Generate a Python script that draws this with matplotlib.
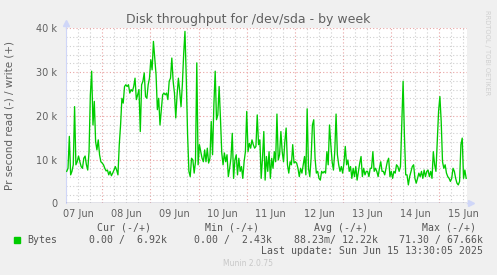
import pandas as pd
import numpy as np
import matplotlib
matplotlib.use("Agg")
import matplotlib.pyplot as plt
from matplotlib.patches import Rectangle

output_img_path = "out.png"

# write throughput (k bytes/s), ~40 min apart
write_day1 = [7.3, 8, 15.3, 6.5, 7.3, 8.8, 22.1, 8.8, 9.5, 10.8,
              9.5, 8.4, 8, 10.3, 10.8, 8.8, 7.6, 11.8, 24.8, 30.2,
              17.9, 23.3, 14.1, 12.2, 14.5, 11.1, 9.5, 9.2, 8.8, 8,
              7.4, 7.6, 6.5, 7.3, 6.3, 6.9, 7.6, 8.4, 7.6, 6.5,
              13.4, 17.9, 24, 22.9, 26.7, 27.1, 26.7, 27.1, 25.2, 26,
              25.6, 26.7, 28.6, 23.7, 24.8, 26, 16.4, 27.1, 27.9, 29.8,
              24.4, 24, 27.1, 28.6, 32.8, 30.5, 37, 33.2, 29.4, 21.4,
              24, 17.9, 21.4, 24.8, 25.2, 24.8]
write_day2 = [25.2, 23.7, 27.9, 28.6, 33.2, 27.9, 25.2, 19.5, 24.8, 28.6,
              25.6, 22.1, 27.1, 34, 39.3, 28.6, 15.6, 7.3, 6.1, 10.3,
              9.9, 6.9, 9.5, 32.1, 8.8, 13.4, 11.8, 10.3, 9.5, 12.2,
              9.5, 12.6, 9.2, 10.3, 18.7, 11.1, 22.5, 30.2, 19.1, 20.2,
              26.7, 19.5, 11.5, 8.8, 11.5, 9.5, 11.1, 6.1, 8, 10.3,
              16, 5.7, 9.9, 11.1, 6.5, 10.3, 7.3, 8.4, 5.7, 9.5,
              11.8, 21, 11.8, 13.7, 12.6, 14.5, 13.4, 12.6, 13, 20.2,
              13.4, 14.5, 5.7, 10.3, 16.4, 5.3]
write_day3 = [10.7, 7.3, 11.8, 5.7, 10.3, 8, 11.8, 9.5, 20.4, 9.9,
              11.1, 16.4, 11.8, 9.5, 14.1, 17.2, 8.8, 6.9, 9.5, 8.8,
              13.4, 9.2, 9.5, 9.2, 8, 6.1, 8, 6.9, 8.8, 10.7,
              6.5, 21.6, 8, 6.1, 10.3, 17.9, 19.1, 10.3, 6.9, 7.3,
              5.7, 5.3, 7.3, 6.9, 7.3, 6.9, 11.8, 8.8, 17.9, 13.4,
              9.5, 7.6, 11.8, 20.4, 11.1, 8.8, 7.3, 8.4, 6.9, 9.2,
              13, 8.8, 9.9, 7.3, 8.4, 5.7, 8, 6.1, 8.4, 5.3,
              7.3, 9.2, 10.7, 6.1, 8, 6.5, 7.3]
write_day4 = [7.3, 6.1, 8, 8, 11.8, 7.3, 8, 7.3, 6.1, 8,
              9.5, 7.3, 7.3, 6.5, 8, 9.5, 10.3, 6.1, 7.3, 5.7,
              7.3, 6.9, 8.8, 8.4, 7.3, 8.4, 17.9, 27.9, 15.6, 6.5,
              6.5, 4.2, 6.1, 7.3, 8.4, 8.8, 5.7, 4.6, 5.7, 6.9,
              6.1, 7.3, 5.7, 7.6, 6.1, 7.3, 7.6, 6.1, 7.3, 5.7,
              11.8, 8.8, 7.3, 14.1, 21, 24.4, 18.7, 9.5, 8, 8.8,
              6.9, 6.1, 5.7, 5, 5.7, 8, 7.3, 5.7, 4.6, 4.2,
              5, 13.4, 14.9, 5.7, 7.6, 5.7]

series_start = "2025-06-07 06:15"
series_end = "2025-06-15 13:20"
view_start = "2025-06-07 05:45"
view_end = "2025-06-15 13:30"

day_labels = ["07 Jun", "08 Jun", "09 Jun", "10 Jun", "11 Jun",
              "12 Jun", "13 Jun", "14 Jun", "15 Jun"]
y_ticks = [0, 10, 20, 30, 40]
y_tick_labels = ["0", "10 k", "20 k", "30 k", "40 k"]

legend_headers = ["Cur (-/+)", "Min (-/+)", "Avg (-/+)", "Max (-/+)"]
legend_values = ["0.00 /  6.92k", "0.00 /  2.43k", "88.23m/ 12.22k", "71.30 / 67.66k"]

W, H = 497, 275
TXT = "#606060"

write_vals = write_day1 + write_day2 + write_day3 + write_day4
times = pd.date_range(series_start, series_end, periods=len(write_vals))

fig = plt.figure(figsize=(W / 100, H / 100), dpi=100, facecolor="#F0F0F0")
ax = fig.add_axes([65.7 / W, 1 - 203.3 / H, (466.5 - 65.7) / W, (203.3 - 28.3) / H])
ax.set_facecolor("white")

t0, t1 = pd.Timestamp(view_start), pd.Timestamp(view_end)
ax.set_xlim(t0, t1)
ax.set_ylim(0, 40)

# grid: minor every 6h / 2k, major at midnight / 10k
for t in pd.date_range("2025-06-07 06:00", t1, freq="6h"):
    c = "#e9a3a3" if t.hour == 0 else "#cfcfcf"
    ax.axvline(t, color=c, lw=0.8, ls=(0, (1, 2)), zorder=1)
for v in np.arange(2, 41, 2):
    c = "#e9a3a3" if v % 10 == 0 else "#cfcfcf"
    ax.axhline(v, color=c, lw=0.8, ls=(0, (1, 2)), zorder=1)

ax.plot(times, write_vals, color="#00cc00", lw=0.95, zorder=3)
ax.axhline(0, color="#6e6e8e", lw=1.0, zorder=4)

noon = pd.date_range("2025-06-07 12:00", periods=len(day_labels), freq="D")
ax.set_xticks(noon)
ax.set_xticklabels(day_labels)
ax.set_yticks(y_ticks)
ax.set_yticklabels(y_tick_labels)
ax.tick_params(axis="x", length=0, pad=4, labelsize=7, labelcolor=TXT)
ax.tick_params(axis="y", length=0, pad=6, labelsize=7, labelcolor=TXT)

for s in ["top", "right", "bottom"]:
    ax.spines[s].set_visible(False)
ax.spines["left"].set_color("#cfd6f8")

# axis arrows
ax.plot([0, 0], [1, 1.03], color="#cfd6f8", lw=1, transform=ax.transAxes, clip_on=False)
ax.plot([0], [1.03], marker="^", ms=4, color="#cfd6f8", transform=ax.transAxes, clip_on=False)
ax.plot([1, 1.01], [0, 0], color="#cfd6f8", lw=1, transform=ax.transAxes, clip_on=False)
ax.plot([1.01], [0], marker=">", ms=4, color="#cfd6f8", transform=ax.transAxes, clip_on=False)

fig.text(247.8 / W, 1 - 19 / H, "Disk throughput for /dev/sda - by week",
         ha="center", va="center", fontsize=9.0, color=TXT)
fig.text(10 / W, 1 - 115.5 / H, "Pr second read (-) / write (+)", rotation=90,
         ha="center", va="center", fontsize=7.5, color=TXT)
fig.text(487 / W, 1 - 53 / H, "RRDTOOL / TOBI OETIKER", rotation=270,
         ha="center", va="center", fontsize=4.8, color="#d0d0d0")

mono = dict(family="DejaVu Sans Mono", fontsize=7.1, color="#555555", va="center")
for lbl, xr in zip(legend_headers, [151, 259, 368, 476]):
    fig.text(xr / W, 1 - 228 / H, lbl, ha="right", **mono)
fig.patches.append(Rectangle((14 / W, 1 - 243 / H), 6 / W, 6 / H,
                             transform=fig.transFigure, color="#00cc00"))
fig.text(27 / W, 1 - 240 / H, "Bytes", ha="left", **mono)
for lbl, xr in zip(legend_values, [167, 272, 378, 483]):
    fig.text(xr / W, 1 - 240 / H, lbl, ha="right", **mono)
fig.text(483 / W, 1 - 251.5 / H, "Last update: Sun Jun 15 13:30:05 2025", ha="right", **mono)
fig.text(248 / W, 1 - 264 / H, "Munin 2.0.75", ha="center", va="center",
         fontsize=5.5, color="#c8c8c8")

fig.savefig(output_img_path, dpi=100, facecolor=fig.get_facecolor())
